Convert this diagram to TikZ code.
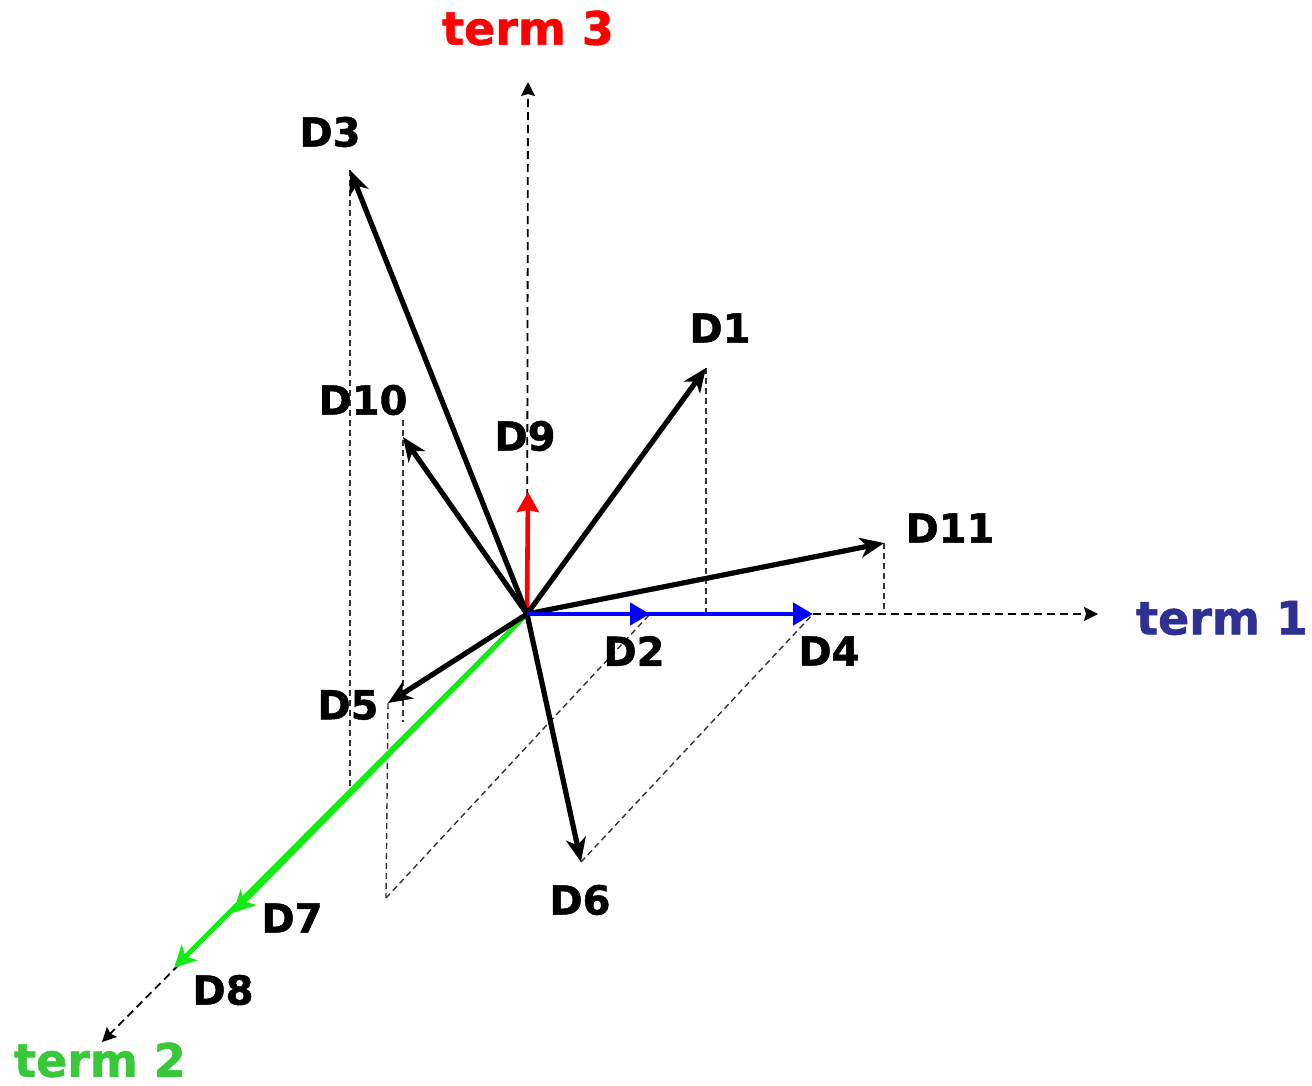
\documentclass[tikz,border=0pt]{standalone}
\usepackage{fontspec}
\setmainfont{DejaVu Sans}[BoldFeatures={FakeBold=1.2}]
\usetikzlibrary{arrows.meta}
\definecolor{axOne}{RGB}{ 46, 49,146}
\definecolor{axTwo}{RGB}{ 57,200, 57}
\definecolor{axThree}{RGB}{255,  0,  0}
\definecolor{vecBlue}{RGB}{  0,  0,255}
\definecolor{vecGreen}{RGB}{ 20,235, 20}

\begin{document}
\begin{tikzpicture}[
  x=0.5pt, y=-0.5pt,
  lbl/.style={inner sep=0pt, font=\fontsize{20}{24}\selectfont\bfseries},
  ttl/.style={inner sep=0pt, font=\fontsize{23}{27}\selectfont\bfseries},
  vec/.style={draw=black, line width=2.6pt,
              -{Stealth[length=12pt,width=10pt,inset=3.5pt]}},
  bvec/.style={draw=vecBlue, line width=2.3pt, -{Triangle[length=10pt,width=11pt]}},
  rvec/.style={draw=axThree, line width=2.3pt,
               -{Stealth[length=10pt,width=11pt,inset=1pt]}},
  gvec/.style={draw=vecGreen, line width=2.4pt,
               -{Stealth[length=11pt,width=11pt,inset=3pt]}},
  axis/.style={draw=black, line width=0.9pt, dash pattern=on 4pt off 2.5pt,
               -{Stealth[length=7pt,width=7pt,inset=1pt]}},
  proj/.style={draw=black!80, line width=0.7pt, dash pattern=on 3pt off 2pt},
]
\useasboundingbox (0,0) rectangle (1312,1086);

% ============ origin, axis ends and vector tips ============
\coordinate (O)   at (527,614);
\coordinate (t1)  at (1098,614);
\coordinate (t2)  at (102,1042);
\coordinate (t3)  at (528,82);

\coordinate (D1)  at (706,368);
\coordinate (D2)  at (650,614);
\coordinate (D3)  at (350,170);
\coordinate (D4)  at (813,614);
\coordinate (D5)  at (388,703);
\coordinate (D6)  at (581,862);
\coordinate (D7)  at (233,913);
\coordinate (D8)  at (174,968);
\coordinate (D9)  at (528,492);
\coordinate (D10) at (403,437);
\coordinate (D11) at (884,543);

% feet of the projection lines
\coordinate (f1)  at (706,614);
\coordinate (f3)  at (350,793);
\coordinate (g10) at (403,420);
\coordinate (f10) at (403,722);
\coordinate (f5)  at (386,898);
\coordinate (f11) at (884,614);

% ============ axes ============
\draw[axis] (O) -- (t1);
\draw[axis] (O) -- (t2);
\draw[axis] (O) -- (t3);

\node[ttl, text=axOne]   (term1) at (1222,618) {term 1};
\node[ttl, text=axTwo]   (term2) at (100,1060) {term 2};
\node[ttl, text=axThree] (term3) at (528,28)   {term 3};

% ============ projections ============
\draw[proj] (D3) -- (f3);
\draw[proj] (g10) -- (f10);
\draw[proj] (D5) -- (f5);
\draw[proj] (f5) -- (D2);
\draw[proj] (D6) -- (D4);
\draw[proj] (D1) -- (f1);
\draw[proj] (D11) -- (f11);

% ============ document vectors ============
\draw[gvec] (O) -- (D8);
\draw[gvec] (O) -- (D7);
\draw[rvec] (O) -- (D9);
\draw[vec]  (O) -- (D3);
\draw[vec]  (O) -- (D10);
\draw[vec]  (O) -- (D1);
\draw[vec]  (O) -- (D11);
\draw[vec]  (O) -- (D5);
\draw[vec]  (O) -- (D6);
\draw[bvec] (O) -- (D4);
\draw[bvec] (O) -- (D2);

% labels
\node[lbl] (lD1)  at (720,328) {D1};
\node[lbl] (lD2)  at (634,651) {D2};
\node[lbl] (lD3)  at (330,132) {D3};
\node[lbl] (lD4)  at (829,651) {D4};
\node[lbl] (lD5)  at (348,705) {D5};
\node[lbl] (lD6)  at (580,900) {D6};
\node[lbl] (lD7)  at (292,918) {D7};
\node[lbl] (lD8)  at (223,990) {D8};
\node[lbl] (lD9)  at (525,436) {D9};
\node[lbl] (lD10) at (363,400) {D10};
\node[lbl] (lD11) at (950,528) {D11};

\end{tikzpicture}
\end{document}
